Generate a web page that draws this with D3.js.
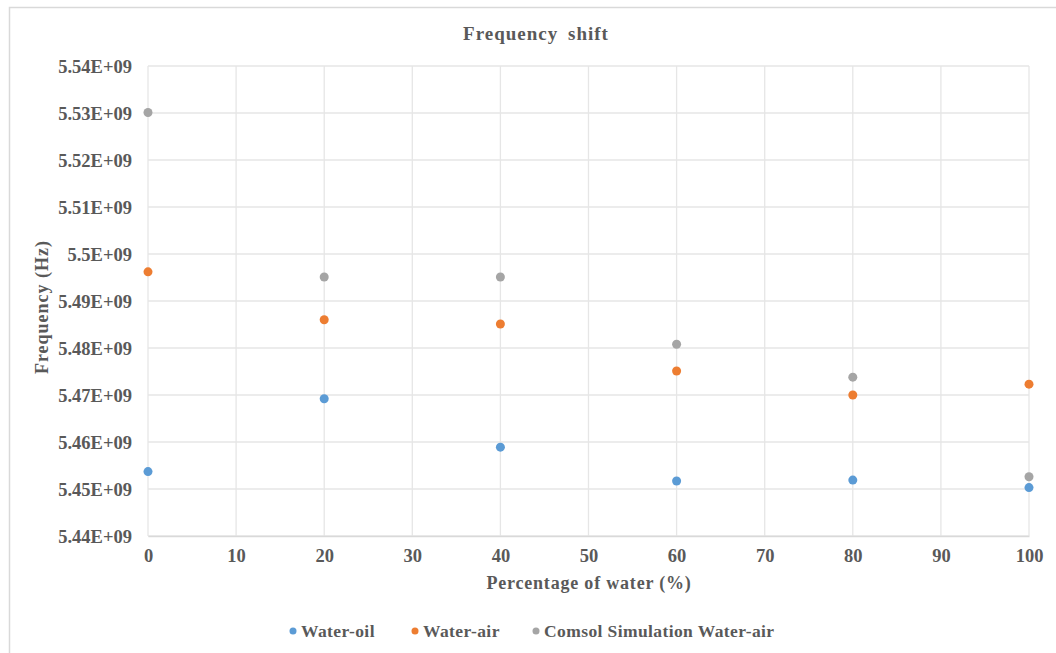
<!DOCTYPE html>
<html><head><meta charset="utf-8">
<script src="https://cdn.jsdelivr.net/npm/d3@7"></script>
<style>
body{margin:0;background:#fff;}
text{font-family:"Liberation Serif","Times New Roman",serif;font-weight:bold;fill:#595959;}
</style></head>
<body><svg id="c" width="1056" height="653"></svg>
<script>
const xValues = [0, 20, 40, 60, 80, 100];
const waterOil = [5.4537e9, 5.4692e9, 5.4589e9, 5.4517e9, 5.4519e9, 5.4503e9];
const waterAir = [5.4962e9, 5.4860e9, 5.4851e9, 5.4751e9, 5.4700e9, 5.4723e9];
const comsol   = [5.5301e9, 5.4951e9, 5.4951e9, 5.4808e9, 5.4738e9, 5.4526e9];
const seriesNames = ["Water-oil", "Water-air", "Comsol Simulation Water-air"];
const seriesColors = ["#5B9BD5", "#ED7D31", "#A5A5A5"];
const xTicks = [0,10,20,30,40,50,60,70,80,90,100];
const yTicks = [5.44e9,5.45e9,5.46e9,5.47e9,5.48e9,5.49e9,5.50e9,5.51e9,5.52e9,5.53e9,5.54e9];
const yTickLabels = ["5.44E+09","5.45E+09","5.46E+09","5.47E+09","5.48E+09","5.49E+09","5.5E+09","5.51E+09","5.52E+09","5.53E+09","5.54E+09"];

const svg = d3.select("#c");
svg.append("rect").attr("x",9.5).attr("y",7.5).attr("width",1060).attr("height",660)
  .attr("fill","none").attr("stroke","#d9d9d9").attr("stroke-width",1.5);

const x = d3.scaleLinear().domain([0,100]).range([148,1029]);
const y = d3.scaleLinear().domain([5.44e9,5.54e9]).range([536,66]);

const grid = svg.append("g");
grid.selectAll("line.h").data(yTicks).join("line")
  .attr("x1",x(0)).attr("x2",x(100)).attr("y1",d=>y(d)).attr("y2",d=>y(d))
  .attr("stroke","#e6e6e6").attr("stroke-width",1.3);
grid.selectAll("line.v").data(xTicks).join("line")
  .attr("y1",y(5.44e9)).attr("y2",y(5.54e9)).attr("x1",d=>x(d)).attr("x2",d=>x(d))
  .attr("stroke","#e6e6e6").attr("stroke-width",1.3);

const tickStyle = sel => sel.style("font-family","'Liberation Serif',serif").style("font-weight","bold")
  .style("fill","#595959").attr("font-size",18.5);

const yAxis = d3.axisLeft(y).tickValues(yTicks).tickFormat((d,i)=>yTickLabels[i]).tickSize(0).tickPadding(16);
const gy = svg.append("g").attr("transform",`translate(${x(0)},0)`).call(yAxis);
gy.select(".domain").remove();
gy.selectAll("text").call(tickStyle).attr("dy","0.33em");

const xAxis = d3.axisBottom(x).tickValues(xTicks).tickSize(0).tickPadding(13);
const gx = svg.append("g").attr("transform",`translate(0,${y(5.44e9)})`).call(xAxis);
gx.select(".domain").attr("stroke","#d9d9d9").attr("stroke-width",1.3);
gx.selectAll("text").call(tickStyle);

const allSeries = [waterOil, waterAir, comsol];
allSeries.forEach((vals,si)=>{
  svg.append("g").selectAll("circle").data(vals).join("circle")
    .attr("cx",(d,i)=>x(xValues[i])).attr("cy",d=>y(d)).attr("r",4.5)
    .attr("fill",seriesColors[si]);
});

svg.append("text").attr("x",536).attr("y",40).attr("text-anchor","middle")
  .attr("font-size",19).attr("letter-spacing","1px").attr("word-spacing","4px").text("Frequency shift");
svg.append("text").attr("x",589).attr("y",589).attr("text-anchor","middle")
  .attr("font-size",18).attr("letter-spacing","0.8px").text("Percentage of water (%)");
svg.append("text").attr("transform","translate(48,307) rotate(-90)").attr("text-anchor","middle")
  .attr("font-size",18).attr("letter-spacing","1px").text("Frequency (Hz)");

const legendX = [293, 415, 536];
const lg = svg.append("g");
seriesNames.forEach((n,i)=>{
  lg.append("circle").attr("cx",legendX[i]).attr("cy",631).attr("r",3.5).attr("fill",seriesColors[i]);
  lg.append("text").attr("x",legendX[i]+8).attr("y",637).attr("font-size",17.5).attr("letter-spacing","0.4px").text(n);
});
</script></body></html>
